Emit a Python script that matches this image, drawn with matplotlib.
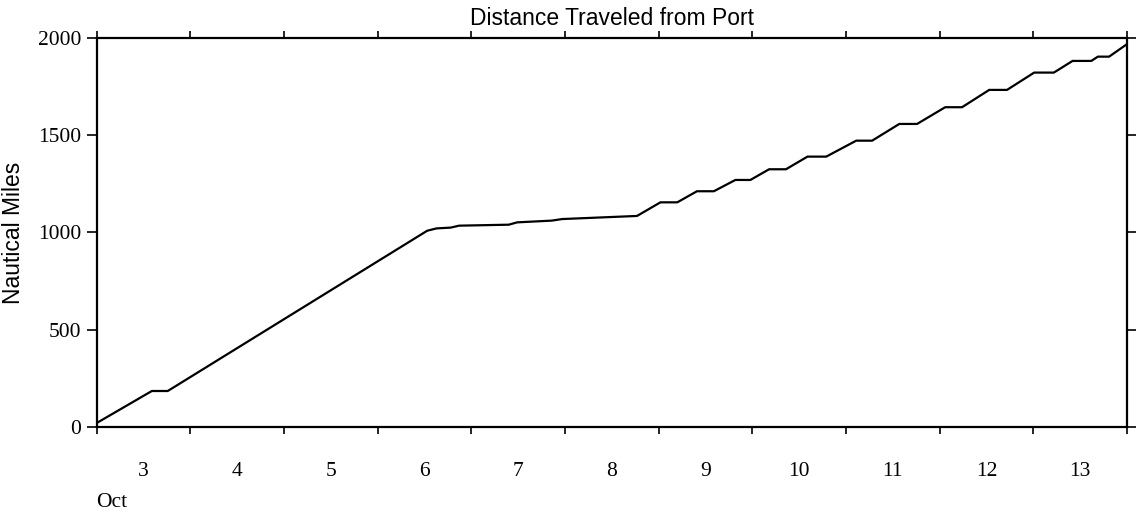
import matplotlib
matplotlib.use('Agg')
import matplotlib.pyplot as plt

# position of the ship, day of October vs distance made good
days = [3.0, 3.59, 3.76, 6.53, 6.63, 6.78, 6.87, 7.40, 7.49, 7.86, 7.97,
        8.77, 9.02, 9.20, 9.41, 9.59, 9.82, 9.98, 10.18, 10.36, 10.59,
        10.79, 11.11, 11.28, 11.57, 11.76, 12.06, 12.24, 12.53, 12.72,
        13.01, 13.22, 13.42, 13.62, 13.69, 13.81, 14.0]
miles = [20, 185, 185, 1009, 1021, 1025, 1035, 1040, 1052, 1061, 1069,
         1085, 1155, 1155, 1212, 1212, 1270, 1270, 1325, 1325, 1390,
         1390, 1472, 1472, 1558, 1558, 1644, 1644, 1733, 1733,
         1822, 1822, 1882, 1882, 1904, 1904, 1968]

day_labels = ['3', '4', '5', '6', '7', '8', '9', '10', '11', '12', '13']
yticks = [0, 500, 1000, 1500, 2000]

serif = 'Liberation Serif'
sans = 'Liberation Sans'

fig = plt.figure(figsize=(11.36, 5.18), dpi=100)
ax = fig.add_axes([0.085, 0.1757, 0.907, 0.751])

ax.plot(days, miles, color='black', lw=1.6)

ax.set_xlim(3, 14)
ax.set_ylim(0, 2000)

# day boundaries get ticks, labels sit in the middle of each day
ax.set_xticks(range(3, 15))
ax.set_xticklabels([])
ax.set_xticks([d + 0.5 for d in range(3, 14)], minor=True)
ax.set_xticklabels(day_labels, minor=True, fontfamily=serif, fontsize=15.5)
ax.tick_params(axis='x', which='minor', length=0, pad=25)
ax.tick_params(axis='x', which='major', direction='out', length=5, width=1.2,
               top=True, bottom=True)

ax.set_yticks(yticks)
ax.set_yticklabels([str(v) for v in yticks], fontfamily=serif, fontsize=15.5)
ax.tick_params(axis='y', direction='out', length=7, width=1.2,
               left=True, right=True, pad=4)

for s in ax.spines.values():
    s.set_linewidth(1.6)
    s.set_color('black')

ax.set_title('Distance Traveled from Port', fontfamily=sans, fontsize=16.5, pad=9)
ax.set_ylabel('Nautical Miles', fontfamily=sans, fontsize=16.5)
ax.yaxis.set_label_coords(-0.069, 0.5)
ax.text(3.0, -0.17, 'Oct', transform=ax.get_xaxis_transform(),
        fontfamily=serif, fontsize=15.5, ha='left', va='top')

fig.savefig('out.png', dpi=100)
